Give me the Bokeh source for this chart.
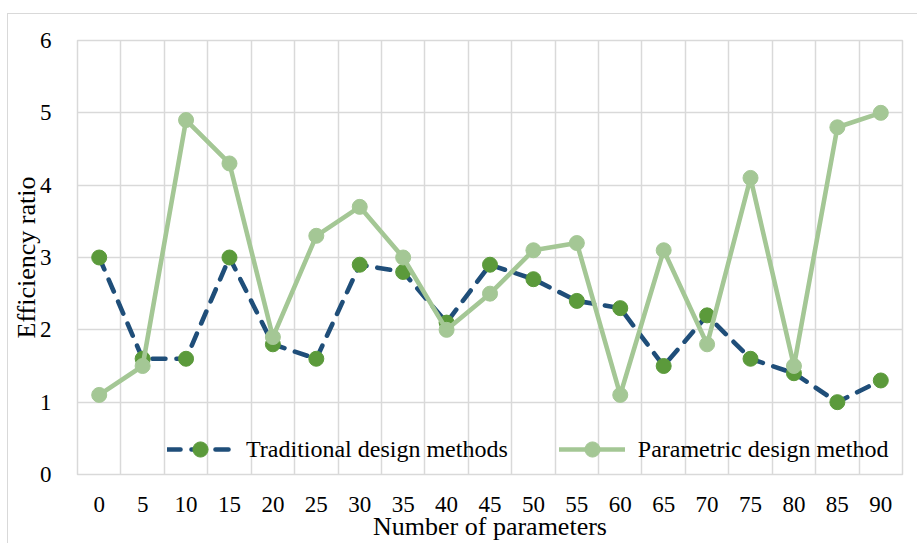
from bokeh.plotting import figure
from bokeh.models import FactorRange, Range1d, FixedTicker, Legend, LegendItem
from bokeh.embed import file_html
from bokeh.resources import INLINE

# ---- data ----
params = ["0", "5", "10", "15", "20", "25", "30", "35", "40", "45",
          "50", "55", "60", "65", "70", "75", "80", "85", "90"]
traditional = [3.0, 1.6, 1.6, 3.0, 1.8, 1.6, 2.9, 2.8, 2.1, 2.9,
               2.7, 2.4, 2.3, 1.5, 2.2, 1.6, 1.4, 1.0, 1.3]
parametric = [1.1, 1.5, 4.9, 4.3, 1.9, 3.3, 3.7, 3.0, 2.0, 2.5,
              3.1, 3.2, 1.1, 3.1, 1.8, 4.1, 1.5, 4.8, 5.0]
y_ticks = [0, 1, 2, 3, 4, 5, 6]

FONT = "Liberation Serif"
GRID = "#D9D9D9"
NAVY = "#1F4E79"
DKGREEN = "#5B9A3B"
LTGREEN = "#A4C795"

p = figure(x_range=FactorRange(*params), y_range=Range1d(0, 6),
           width=910, height=530, output_backend="svg", toolbar_location=None,
           min_border_left=69, min_border_right=16, min_border_top=26,
           min_border_bottom=70)
p.margin = (13, 0, 0, 7)
p.styles = {"border-left": "1px solid #D9D9D9", "border-top": "1px solid #D9D9D9"}

p.outline_line_color = GRID
p.outline_line_width = 1.5
p.background_fill_color = "white"
p.border_fill_color = "white"

# grids: vertical lines between categories
p.xgrid.ticker = FixedTicker(ticks=list(range(len(params) + 1)))
p.xgrid.grid_line_color = GRID
p.xgrid.grid_line_width = 1.5
p.yaxis.ticker = FixedTicker(ticks=y_ticks)
p.ygrid.grid_line_color = GRID
p.ygrid.grid_line_width = 1.5

for ax in (p.xaxis[0], p.yaxis[0]):
    ax.axis_line_color = None
    ax.major_tick_line_color = None
    ax.minor_tick_line_color = None
    ax.major_label_text_font = FONT
    ax.major_label_text_font_size = "23px"
    ax.major_label_text_color = "#000000"
    ax.major_label_text_line_height = 1.0
    ax.axis_label_text_font = FONT
    ax.axis_label_text_font_size = "26px"
    ax.axis_label_text_font_style = "normal"
    ax.axis_label_text_color = "#000000"
    ax.axis_label_text_line_height = 1.0

p.xaxis.axis_label = "Number of parameters"
p.yaxis.axis_label = "Efficiency ratio"
p.xaxis.major_label_standoff = 16
p.xaxis.axis_label_standoff = -3
p.yaxis.major_label_standoff = 20
p.yaxis.axis_label_standoff = -4

trad_line = p.line(params, traditional, line_color=NAVY, line_width=4.6,
                   line_dash="13 11", line_cap="round", line_join="round")
trad_pts = p.scatter(params, traditional, size=15, fill_color=DKGREEN,
                     line_color=DKGREEN)
par_line = p.line(params, parametric, line_color=LTGREEN, line_width=4.6,
                  line_cap="round", line_join="round")
par_pts = p.scatter(params, parametric, size=15, fill_color=LTGREEN,
                    line_color=LTGREEN)

legend = Legend(items=[
    LegendItem(label="Traditional design methods", renderers=[trad_line, trad_pts]),
    LegendItem(label="Parametric design method", renderers=[par_line, par_pts]),
], orientation="horizontal", location=(90, 6))
legend.padding = 0
legend.margin = 0
legend.spacing = 51
legend.glyph_width = 66
legend.glyph_height = 38
legend.label_height = 38
legend.label_standoff = 13
legend.label_text_font = FONT
legend.label_text_font_size = "24px"
legend.label_text_color = "#000000"
legend.border_line_alpha = 0
legend.background_fill_alpha = 0
p.add_layout(legend)

open("out.html", "w").write(file_html(p, INLINE))
